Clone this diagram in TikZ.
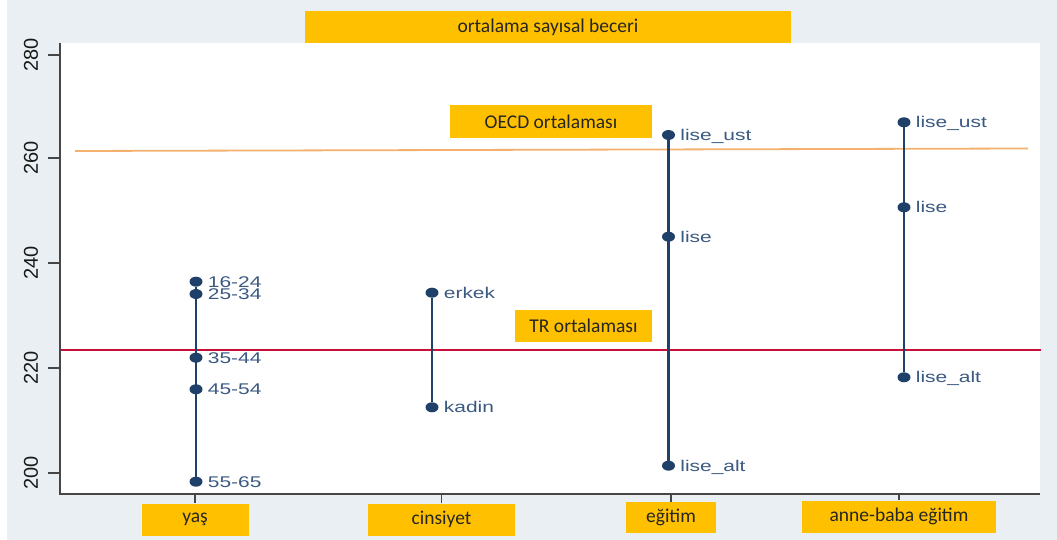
\documentclass[tikz,border=0pt]{standalone}
\usepackage{fontspec}
\usepackage{xcolor}
\usepackage{tikz}
\usetikzlibrary{positioning, shapes.geometric}
\setmainfont{Liberation Sans}
\newfontfamily\boxfont{Carlito}
\newfontfamily\lblfont[FakeStretch=1.35]{Liberation Sans}
\definecolor{chartbg}{RGB}{233, 239, 242}
\definecolor{pointblue}{RGB}{31, 64, 104}
\definecolor{labelblue}{RGB}{59, 90, 130}
\definecolor{boxorange}{RGB}{255, 192, 0}
\definecolor{oecdline}{RGB}{244, 177, 110}
\definecolor{trline}{RGB}{200, 16, 56}
\definecolor{axisgray}{RGB}{70, 70, 70}

\begin{document}
\begin{tikzpicture}[
			x=1pt, y=-1pt,
			dot/.style={ellipse, fill=pointblue, minimum width=13pt, minimum height=10pt, inner sep=0pt},
			ptlabel/.style={inner sep=0pt, text height=11pt, text depth=0pt, text=labelblue, font=\lblfont\fontsize{15.5}{16}\selectfont},
			tagbox/.style={rectangle, fill=boxorange, inner sep=0pt, text=black!85, font=\boxfont\fontsize{19.5}{20}\selectfont},
			ticklabel/.style={rotate=90, inner sep=0pt, text=black!90, font=\fontsize{20}{20}\selectfont},
			axisline/.style={axisgray, line width=1.3pt},
			spanline/.style={pointblue, line width=2.3pt}
		]
		\useasboundingbox (0,0) rectangle (1057,540);
		\fill[chartbg] (7,0) rectangle (1057,540);
		\fill[white] (60,43) rectangle (1040,494);
		
		% Reference lines
		\draw[oecdline, line width=1.8pt] (75,151) -- (1028,148.5);
		\draw[trline, line width=2pt] (60,350) -- (1041,350);
		
		% Axes
		\draw[axisline] (60,43) -- (60,494) -- (1040,494);
		\draw[axisline] (48,55) -- (60,55);
		\draw[axisline] (48,158) -- (60,158);
		\draw[axisline] (48,263) -- (60,263);
		\draw[axisline] (48,368) -- (60,368);
		\draw[axisline] (48,473) -- (60,473);
		\node[ticklabel] (t280) at (31,55) {280};
		\node[ticklabel] (t260) at (31,158) {260};
		\node[ticklabel] (t240) at (31,263) {240};
		\node[ticklabel] (t220) at (31,368) {220};
		\node[ticklabel] (t200) at (31,473) {200};
		
		% Boxes
		\node[tagbox, minimum width=486pt, minimum height=32pt] (title) at (548,27) {ortalama sayısal beceri};
		\node[tagbox, minimum width=202pt, minimum height=33pt] (oecd) at (551,121.5) {OECD ortalaması};
		\node[tagbox, minimum width=137pt, minimum height=32pt] (tr) at (583.5,326) {TR ortalaması};
		\node[tagbox, minimum width=107pt, minimum height=32pt] (yas) at (195,519.5) {yaş};
		\node[tagbox, minimum width=147pt, minimum height=32pt] (cins) at (441.5,519.5) {cinsiyet};
		\node[tagbox, minimum width=90pt, minimum height=31pt] (egit) at (671,517.5) {eğitim};
		\node[tagbox, minimum width=194pt, minimum height=32pt] (aile) at (899,516.5) {anne-baba eğitim};
		\draw[axisline] (yas.north) -- (yas.north |- 0,494);
		\draw[axisline] (cins.north) -- (cins.north |- 0,494);
		\draw[axisline] (egit.north) -- (egit.north |- 0,494);
		\draw[axisline] (aile.north) -- (aile.north |- 0,494);
		
		% yas
		\node[dot] (y1) at (196,281.7) {};
		\node[dot] (y2) at (196,294) {};
		\node[dot] (y3) at (196,357.7) {};
		\node[dot] (y4) at (196,389.3) {};
		\node[dot] (y5) at (196,481.7) {};
		\draw[spanline] (y1) -- (y5);
		\node[ptlabel, right=5pt of y1] {16-24};
		\node[ptlabel, right=5pt of y2] {25-34};
		\node[ptlabel, right=5pt of y3] {35-44};
		\node[ptlabel, right=5pt of y4] {45-54};
		\node[ptlabel, right=5pt of y5] {55-65};
		
		% cinsiyet
		\node[dot] (c1) at (432,292.7) {};
		\node[dot] (c2) at (432,407.3) {};
		\draw[spanline] (c1) -- (c2);
		\node[ptlabel, right=5pt of c1] {erkek};
		\node[ptlabel, right=5pt of c2] {kadin};
		
		% egitim
		\node[dot] (e1) at (668.5,135) {};
		\node[dot] (e2) at (668.5,236.7) {};
		\node[dot] (e3) at (668.5,465.7) {};
		\draw[spanline] (e1) -- (e3);
		\node[ptlabel, right=5pt of e1] {lise\_ust};
		\node[ptlabel, right=5pt of e2] {lise};
		\node[ptlabel, right=5pt of e3] {lise\_alt};
		
		% anne-baba egitim
		\node[dot] (a1) at (904,122.3) {};
		\node[dot] (a2) at (904,207.3) {};
		\node[dot] (a3) at (904,377.3) {};
		\draw[spanline] (a1) -- (a3);
		\node[ptlabel, right=5pt of a1] {lise\_ust};
		\node[ptlabel, right=5pt of a2] {lise};
		\node[ptlabel, right=5pt of a3] {lise\_alt};
		\end{tikzpicture}
\end{document}
